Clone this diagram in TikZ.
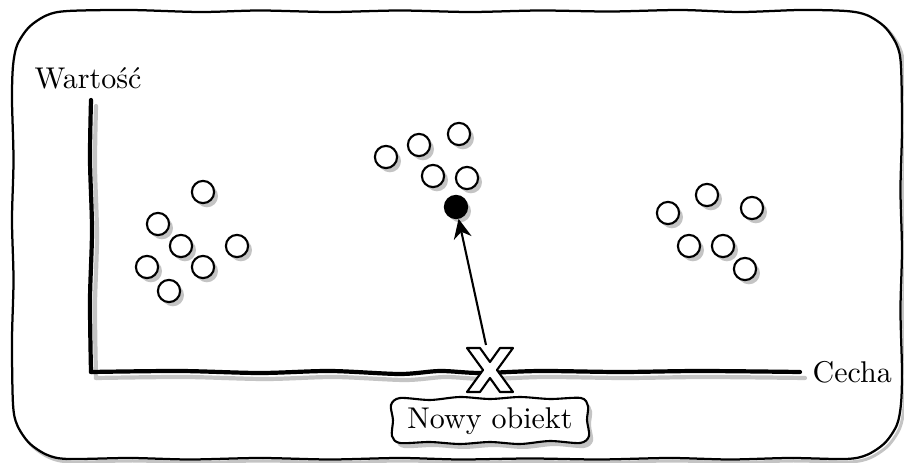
\documentclass[tikz,border=0pt]{standalone}
\usepackage{fontspec}
\usetikzlibrary{arrows.meta,shadows}
\begin{document}
\begin{tikzpicture}[x=0.3333pt,y=-0.3333pt,
  dot/.style={circle,draw,line width=0.7pt,fill=white,minimum size=7.4pt,inner sep=0pt,
    drop shadow={shadow xshift=1.3pt,shadow yshift=-1.4pt,fill=black!23,opacity=1}},
  fdot/.style={dot,fill=black},
  shade/.style={draw=black!23},
  lbl/.style={font=\normalsize,inner sep=0pt}]
\useasboundingbox (0,0) rectangle (904,463);
% frame shadow and frame
\def\framepts{(68,11) (130,10) (200,12) (260,10.5) (330,12) (400,10.5) (470,12) (540,10.5) (610,11.5) (680,10) (740,12) (800,10) (846,11)
 (867.1,15.2) (884.9,27.1) (896.8,44.9) (901,66) (902,130) (900.5,190) (902,250) (900.5,310) (902,370) (901,404)
 (896.8,425.1) (884.9,442.9) (867.1,454.8) (846,459) (790,458) (730,459.5) (670,458) (600,459.5) (530,458.5) (460,459.5) (400,458) (330,459.5) (260,458) (190,459.5) (130,458) (68,459)
 (46.9,454.8) (29.1,442.9) (17.2,425.1) (13,404) (12,340) (13.5,280) (12,220) (13.5,160) (12,100) (13,66)
 (17.2,44.9) (29.1,27.1) (46.9,15.2)}
\draw[shade,line width=1pt,shift={(3,3)}] plot[smooth cycle] coordinates {\framepts};
\draw[line width=0.75pt,fill=white] plot[smooth cycle] coordinates {\framepts};
% axes shadow
\begin{scope}[shift={(5,6)}]
\draw[shade,line width=1.4pt,line cap=round] plot[smooth] coordinates {(91,100) (90,160) (92,230) (90,300) (91,372)};
\draw[shade,line width=1.4pt,line cap=round] plot[smooth] coordinates {(91,372) (180,371) (260,373) (330,371) (400,374) (440,371) (480,373) (540,371) (620,372) (700,371) (800,372)};
\end{scope}
% axes
\draw[line width=1.4pt,line cap=round] plot[smooth] coordinates {(91,100) (90,160) (92,230) (90,300) (91,372)};
\draw[line width=1.4pt,line cap=round] plot[smooth] coordinates {(91,372) (180,371) (260,373) (330,371) (400,374) (440,371) (480,373) (540,371) (620,372) (700,371) (800,372)};
% labels
\node[lbl] (wart) at (88,78) {Wartość};
\node[lbl,anchor=west] (cecha) at (812,372) {Cecha};
% left cluster
\node[dot] (l1) at (203,192) {};
\node[dot] (l2) at (158,224) {};
\node[dot] (l3) at (181,246) {};
\node[dot] (l4) at (237,246) {};
\node[dot] (l5) at (147,267) {};
\node[dot] (l6) at (203,267) {};
\node[dot] (l7) at (169,291) {};
% middle cluster
\node[dot] (m1) at (386,157) {};
\node[dot] (m2) at (419,145) {};
\node[dot] (m3) at (459,134) {};
\node[dot] (m4) at (433,176) {};
\node[dot] (m5) at (467,178) {};
\node[fdot] (new) at (456,207) {};
% right cluster
\node[dot] (r1) at (668,213) {};
\node[dot] (r2) at (707,195) {};
\node[dot] (r3) at (752,208) {};
\node[dot] (r4) at (689,246) {};
\node[dot] (r5) at (723,246) {};
\node[dot] (r6) at (745,269) {};
% X marker
\begin{scope}[shift={(490,370)}]
\draw[line width=0.7pt,fill=white,line join=round] (-23,-22) -- (-10,-22) -- (0,-8) -- (10,-22) -- (23,-22) -- (7,0) -- (23,22) -- (10,22) -- (0,8) -- (-10,22) -- (-23,22) -- (-7,0) -- cycle;
\end{scope}
\coordinate (xtop) at (486,345);
\draw[line width=0.7pt,-{Stealth[length=6.5pt,width=6pt]}] (xtop) -- (new);
% Nowy obiekt box
\def\boxpts{(400,398) (430,400) (460,397) (490,399) (520,397) (550,399) (581,398) (588,406) (587,420) (589,436) (580,443) (550,441) (520,444) (490,442) (460,444) (430,442) (400,443) (392,436) (393,420) (391,405)}
\fill[black!23,shift={(4,5)}] plot[smooth cycle] coordinates {\boxpts};
\draw[line width=0.7pt,fill=white] plot[smooth cycle] coordinates {\boxpts};
\node[lbl] (nowy) at (490,421) {Nowy obiekt};
\end{tikzpicture}
\end{document}
